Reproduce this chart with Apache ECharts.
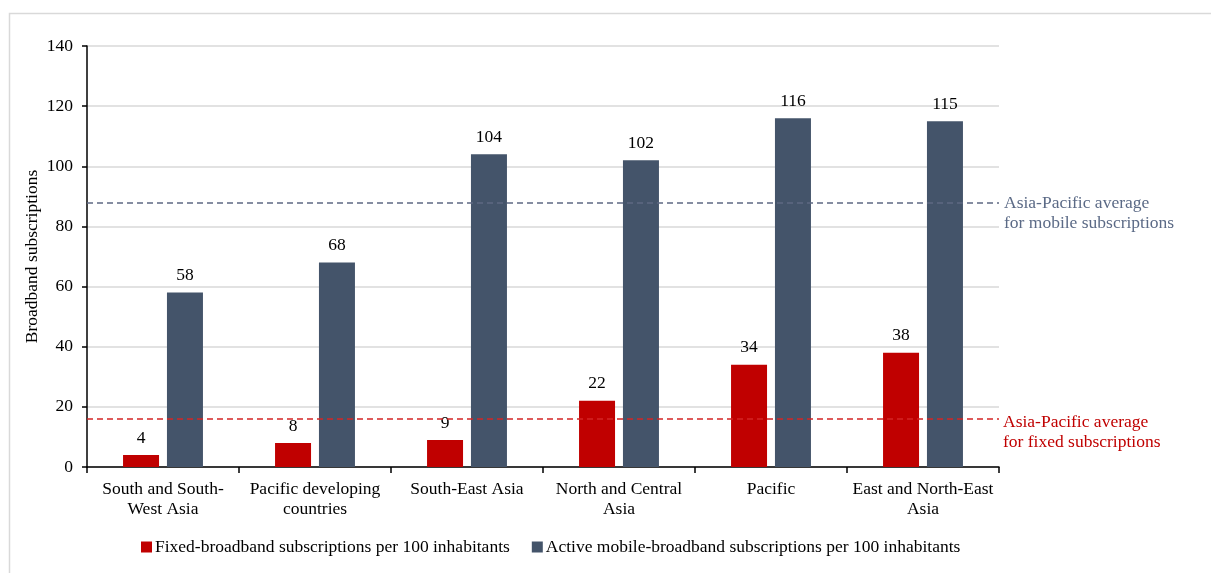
<!DOCTYPE html>
<html>
<head>
<meta charset="utf-8">
<script src="https://cdn.jsdelivr.net/npm/echarts@6/dist/echarts.min.js"></script>
<style>
  html, body { margin: 0; padding: 0; background: #fff; }
  #chart { width: 1211px; height: 573px; }
</style>
</head>
<body>
<div id="chart"></div>
<script>
// Broadband subscriptions per 100 inhabitants, Asia-Pacific subregions
const regions = [
  'South and South-\nWest Asia',
  'Pacific developing\ncountries',
  'South-East Asia',
  'North and Central\nAsia',
  'Pacific',
  'East and North-East\nAsia'
];
const fixedBroadband = [4, 8, 9, 22, 34, 38];
const mobileBroadband = [58, 68, 104, 102, 116, 115];
const fixedAverage = 16;
const mobileAverage = 88;
const seriesNames = [
  'Fixed-broadband subscriptions per 100 inhabitants',
  'Active mobile-broadband subscriptions per 100 inhabitants'
];
const averageLabels = [
  'Asia-Pacific average\nfor fixed subscriptions',
  'Asia-Pacific average\nfor mobile subscriptions'
];

const FONT = '"Liberation Serif", "Times New Roman", serif';
const FS = 17.5;
const RED = '#c00000';
const NAVY = '#44546a';

const chart = echarts.init(document.getElementById('chart'), null, { renderer: 'canvas' });

chart.setOption({
  animation: false,
  textStyle: { fontFamily: FONT },
  graphic: [{
    type: 'rect',
    shape: { x: 9.5, y: 13.5, width: 1300, height: 700 },
    style: { fill: 'none', stroke: '#d9d9d9', lineWidth: 1.5 },
    silent: true,
    z: -10
  }],
  grid: { left: 87, right: 212, top: 46, bottom: 106, containLabel: false },
  legend: {
    bottom: 12,
    left: 136,
    itemWidth: 11,
    itemHeight: 11,
    itemGap: 22,
    icon: 'rect',
    textStyle: { fontFamily: FONT, fontSize: FS, color: '#000', padding: [0, 0, 0, -2] },
    data: seriesNames
  },
  xAxis: {
    type: 'category',
    data: regions,
    axisLine: { lineStyle: { color: '#000', width: 1.5 } },
    axisTick: { show: true, length: 6, lineStyle: { color: '#000', width: 1.5 } },
    axisLabel: {
      interval: 0,
      fontFamily: FONT,
      fontSize: FS,
      color: '#000',
      lineHeight: 20,
      margin: 12
    }
  },
  yAxis: {
    type: 'value',
    min: 0,
    max: 140,
    interval: 20,
    name: 'Broadband subscriptions',
    nameLocation: 'middle',
    nameGap: 46,
    nameMoveOverlap: false,
    nameRotate: 90,
    nameTextStyle: { fontFamily: FONT, fontSize: FS, color: '#000' },
    axisLine: { show: true, lineStyle: { color: '#000', width: 1.5 } },
    axisTick: { show: true, length: 5, lineStyle: { color: '#000', width: 1.5 } },
    axisLabel: { fontFamily: FONT, fontSize: FS, color: '#000', margin: 14 },
    splitLine: { lineStyle: { color: '#d9d9d9', width: 1.5 } }
  },
  series: [
    {
      name: seriesNames[0],
      type: 'bar',
      data: fixedBroadband,
      barWidth: 36,
      barGap: '22%',
      itemStyle: { color: RED },
      label: {
        show: true,
        position: 'top',
        distance: 8,
        fontFamily: FONT,
        fontSize: FS,
        color: '#000'
      },
      markLine: {
        silent: true,
        symbol: 'none',
        lineStyle: { color: '#d42424', type: [6, 4], width: 1.5 },
        label: {
          show: true,
          position: 'end',
          distance: 4,
          offset: [0, 14],
          formatter: averageLabels[0],
          fontFamily: FONT,
          fontSize: FS,
          lineHeight: 20,
          color: RED,
          align: 'left'
        },
        data: [{ yAxis: fixedAverage }]
      }
    },
    {
      name: seriesNames[1],
      type: 'bar',
      data: mobileBroadband,
      barWidth: 36,
      itemStyle: { color: NAVY },
      label: {
        show: true,
        position: 'top',
        distance: 8,
        fontFamily: FONT,
        fontSize: FS,
        color: '#000'
      },
      markLine: {
        silent: true,
        symbol: 'none',
        lineStyle: { color: '#5d6883', type: [6, 4], width: 1.5 },
        label: {
          show: true,
          position: 'end',
          distance: 5,
          offset: [0, 11],
          formatter: averageLabels[1],
          fontFamily: FONT,
          fontSize: FS,
          lineHeight: 20,
          color: '#5b6a86',
          align: 'left'
        },
        data: [{ yAxis: mobileAverage }]
      }
    }
  ]
});
</script>
</body>
</html>
